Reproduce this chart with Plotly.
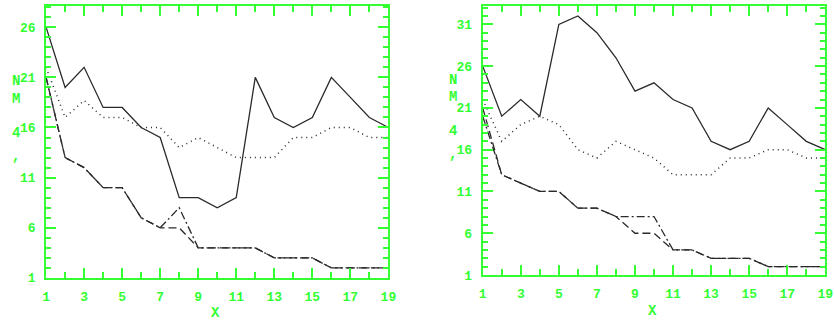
import plotly.graph_objects as go

x = list(range(1, 20))

# Left panel
left_solid = [26, 20, 22, 18, 18, 16, 15, 9, 9, 8, 9, 21, 17, 16, 17, 21, 19, 17, 16]
left_dotted = [22, 17, 18.7, 17, 17, 16, 16, 14, 15, 14, 13, 13, 13, 15, 15, 16, 16, 15, 15]
left_dashed = [21, 13, 12, 10, 10, 7, 6, 6, 4, 4, 4, 4, 3, 3, 3, 2, 2, 2, 2]
left_dashdot = [21, 13, 12, 10, 10, 7, 6, 8, 4, 4, 4, 4, 3, 3, 3, 2, 2, 2, 2]

# Right panel
right_solid = [26, 20, 22, 20, 31, 32, 30, 27, 23, 24, 22, 21, 17, 16, 17, 21, 19, 17, 16]
right_dotted = [22, 17, 19, 20, 19, 16, 15, 17, 16, 15, 13, 13, 13, 15, 15, 16, 16, 15, 15]
right_dashed = [21, 13, 12, 11, 11, 9, 9, 8, 6, 6, 4, 4, 3, 3, 3, 2, 2, 2, 2]
right_dashdot = [20, 13, 12, 11, 11, 9, 9, 8, 8, 8, 4, 4, 3, 3, 3, 2, 2, 2, 2]

y_label_chars = ["N", "M", "4", ","]
x_title = "X"

GREEN = "#33ff33"
LINE = "#2a2a2a"
FONT = dict(family="Liberation Mono", size=13, color=GREEN, weight="bold")

W, H = 834, 331

fig = go.Figure()

styles = [("solid", 1.3), ("1px,4px", 1.5), ("8px,4px", 1.3), ("8px,3px,2px,3px", 1.3)]

for series, ax in [((left_solid, left_dotted, left_dashed, left_dashdot), ("x", "y")),
                   ((right_solid, right_dotted, right_dashed, right_dashdot), ("x2", "y2"))]:
    for vals, (dash, w) in zip(series, styles):
        fig.add_trace(go.Scatter(x=x, y=vals, mode="lines", xaxis=ax[0], yaxis=ax[1],
                                 line=dict(color=LINE, width=w, dash=dash),
                                 showlegend=False, hoverinfo="skip"))

def xaxis(domain, anchor):
    return dict(domain=domain, anchor=anchor, range=[1, 19], tick0=1, dtick=2,
                ticks="inside", ticklen=10, tickwidth=2, tickcolor=GREEN,
                minor=dict(dtick=1, tick0=1, ticks="inside", ticklen=6, tickwidth=2, tickcolor=GREEN),
                showline=True, linecolor=GREEN, linewidth=2, mirror="ticks",
                showgrid=False, zeroline=False, tickfont=dict(FONT, size=13),
                ticklabelstandoff=5)

def yaxis(domain, anchor, rng):
    return dict(domain=domain, anchor=anchor, range=rng, tick0=1, dtick=5,
                ticks="inside", ticklen=10, tickwidth=2, tickcolor=GREEN,
                minor=dict(dtick=1, tick0=1, ticks="inside", ticklen=5, tickwidth=2, tickcolor=GREEN),
                showline=True, linecolor=GREEN, linewidth=2, mirror="ticks",
                showgrid=False, zeroline=False, tickfont=dict(FONT, size=13),
                ticklabelstandoff=6)

fig.update_layout(
    width=W, height=H,
    margin=dict(l=0, r=0, t=0, b=0),
    paper_bgcolor="white", plot_bgcolor="white",
    xaxis=xaxis([42.7 / W, 390 / W], "y"),
    yaxis=yaxis([(H - 285.7) / H, (H - 5.7) / H], "x", [1, 28.16]),
    xaxis2=xaxis([485.7 / W, 833.3 / W], "y2"),
    yaxis2=yaxis([(H - 282.7) / H, (H - 5.7) / H], "x2", [1, 33.25]),
)

annotations = []
for cx, ys in [(12, [83, 102, 137, 160]), (456, [82, 100, 135, 158])]:
    for ch, yy in zip(y_label_chars, ys):
        annotations.append(dict(text=ch, x=cx / W, y=(H - yy) / H, xref="paper", yref="paper",
                                showarrow=False, font=dict(FONT, size=14), xanchor="center", yanchor="middle"))
for cx, yy in [(215, 322), (658, 320)]:
    annotations.append(dict(text=x_title, x=cx / W, y=(H - yy) / H, xref="paper", yref="paper",
                            showarrow=False, font=dict(FONT, size=14), xanchor="center", yanchor="middle"))
fig.update_layout(annotations=annotations)

fig.write_html("out.html")
